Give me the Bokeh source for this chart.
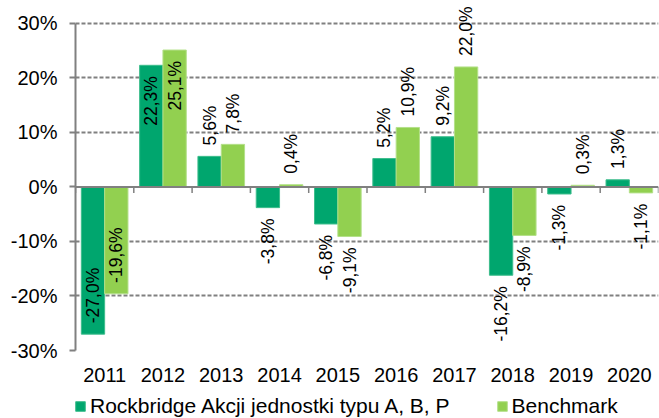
import math
from bokeh.plotting import figure
from bokeh.layouts import column
from bokeh.models import FixedTicker, Span, Legend, LegendItem, Range1d
from bokeh.core.properties import value
from bokeh.embed import file_html
from bokeh.resources import INLINE

# ---- data ----
years = ["2011", "2012", "2013", "2014", "2015", "2016", "2017", "2018", "2019", "2020"]
fund = [-27.0, 22.3, 5.6, -3.8, -6.8, 5.2, 9.2, -16.2, -1.3, 1.3]
bench = [-19.6, 25.1, 7.8, 0.4, -9.1, 10.9, 22.0, -8.9, 0.3, -1.1]
series_names = ["Rockbridge Akcji jednostki typu A, B, P", "Benchmark"]
y_ticks = [-30, -20, -10, 0, 10, 20, 30]
inside_label_years = ["2011", "2012"]

# ---- style ----
FONT = "Liberation Sans"
DARK = "#00A66E"
DARK_EDGE = "#3DBD8C"
LIGHT = "#92D050"
LIGHT_EDGE = "#B4E08A"
GREY = "#808080"
TICK_FS = "20px"
LEGEND_FS = "21px"
LABEL_FS = "17.5px"

n = len(years)
p = figure(width=659, height=392, output_backend="svg", toolbar_location=None,
           x_range=Range1d(0, n), y_range=Range1d(-30, 34),
           min_border_left=75, min_border_right=1, min_border_top=1, min_border_bottom=42)
p.outline_line_color = None
p.background_fill_color = "white"
p.border_fill_color = "white"

# grid
p.xgrid.visible = False
p.ygrid.ticker = FixedTicker(ticks=[t for t in y_ticks if t != 0])
p.ygrid.grid_line_color = GREY
p.ygrid.grid_line_dash = "4 2"
p.ygrid.grid_line_width = 2

# bars
x_fund = [i + 0.3 for i in range(n)]
x_bench = [i + 0.7 for i in range(n)]
r1 = p.vbar(x=x_fund, top=fund, bottom=0, width=0.4, fill_color=DARK,
            line_color=DARK_EDGE, line_width=1)
r2 = p.vbar(x=x_bench, top=bench, bottom=0, width=0.4, fill_color=LIGHT,
            line_color=LIGHT_EDGE, line_width=1)

# zero line + category separators
p.add_layout(Span(location=0, dimension="width", line_color=GREY, line_width=2))
bounds = list(range(n + 1))
p.segment(x0=bounds, y0=[0] * len(bounds), x1=bounds, y1=[-1.1] * len(bounds),
          line_color=GREY, line_width=1.5)

# value labels
gap = 2.0
up = dict(x=[], y=[], t=[])
down = dict(x=[], y=[], t=[])
for i, yr in enumerate(years):
    inside = yr in inside_label_years
    for xx, v in ((x_fund[i], fund[i]), (x_bench[i], bench[i])):
        txt = f"{v:.1f}%".replace(".", ",")
        if not inside:
            yy = v + gap if v >= 0 else v - gap
            goes_up = v >= 0
        else:
            yy = v - gap if v >= 0 else v + gap
            goes_up = v < 0
        d = up if goes_up else down
        d["x"].append(xx); d["y"].append(yy); d["t"].append(txt)

for d, align in ((up, "left"), (down, "right")):
    p.text(x=d["x"], y=d["y"], text=d["t"], angle=math.pi / 2, text_align=align,
           text_baseline="middle", text_font=value(FONT), text_font_size=LABEL_FS,
           text_color="black")

# y axis
p.yaxis.ticker = FixedTicker(ticks=y_ticks)
p.yaxis.major_label_overrides = {t: f"{t}%" for t in y_ticks}
p.yaxis.bounds = (-30, 30)
p.yaxis.axis_line_color = GREY
p.yaxis.axis_line_width = 2
p.yaxis.major_tick_out = 6
p.yaxis.major_tick_in = 0
p.yaxis.major_tick_line_color = GREY
p.yaxis.major_tick_line_width = 2
p.yaxis.minor_tick_line_color = None
p.yaxis.major_label_standoff = 12
p.yaxis.major_label_text_font = FONT
p.yaxis.major_label_text_font_size = TICK_FS
p.yaxis.major_label_text_color = "black"

# x axis
centers = [i + 0.5 for i in range(n)]
p.xaxis.ticker = FixedTicker(ticks=centers)
p.xaxis.major_label_overrides = {c: yr for c, yr in zip(centers, years)}
p.xaxis.axis_line_color = None
p.xaxis.major_tick_line_color = None
p.xaxis.major_tick_out = 0
p.xaxis.major_tick_in = 0
p.xaxis.minor_tick_line_color = None
p.xaxis.major_label_standoff = 17
p.xaxis.major_label_text_font = FONT
p.xaxis.major_label_text_font_size = TICK_FS
p.xaxis.major_label_text_color = "black"

# legend strip (separate figure below the chart; its frame is aligned with the chart's frame)
pl = figure(width=659, height=26, output_backend="svg", toolbar_location=None,
            x_range=Range1d(0, 1), y_range=Range1d(0, 1),
            x_axis_location=None, y_axis_location=None, min_border=0)
pl.outline_line_color = None
pl.grid.visible = False
# legend proxies: drawn outside the visible range, only used for the legend swatches
l1 = pl.vbar(x=[0.5], top=[-5], bottom=[-6], width=0.4, fill_color=DARK,
             line_color=DARK_EDGE, line_width=1)
l2 = pl.vbar(x=[0.5], top=[-5], bottom=[-6], width=0.4, fill_color=LIGHT,
             line_color=LIGHT_EDGE, line_width=1)
legend = Legend(items=[LegendItem(label=series_names[0], renderers=[l1]),
                       LegendItem(label=series_names[1], renderers=[l2])],
                orientation="horizontal", location=(-1, 0),
                border_line_color=None, background_fill_alpha=0,
                padding=0, margin=0, spacing=46, label_standoff=4,
                glyph_width=12, glyph_height=12, label_height=18,
                label_text_font=FONT, label_text_font_size=LEGEND_FS,
                label_text_color="black")
pl.add_layout(legend)

open("out.html", "w").write(file_html(column(p, pl, spacing=0), INLINE))
